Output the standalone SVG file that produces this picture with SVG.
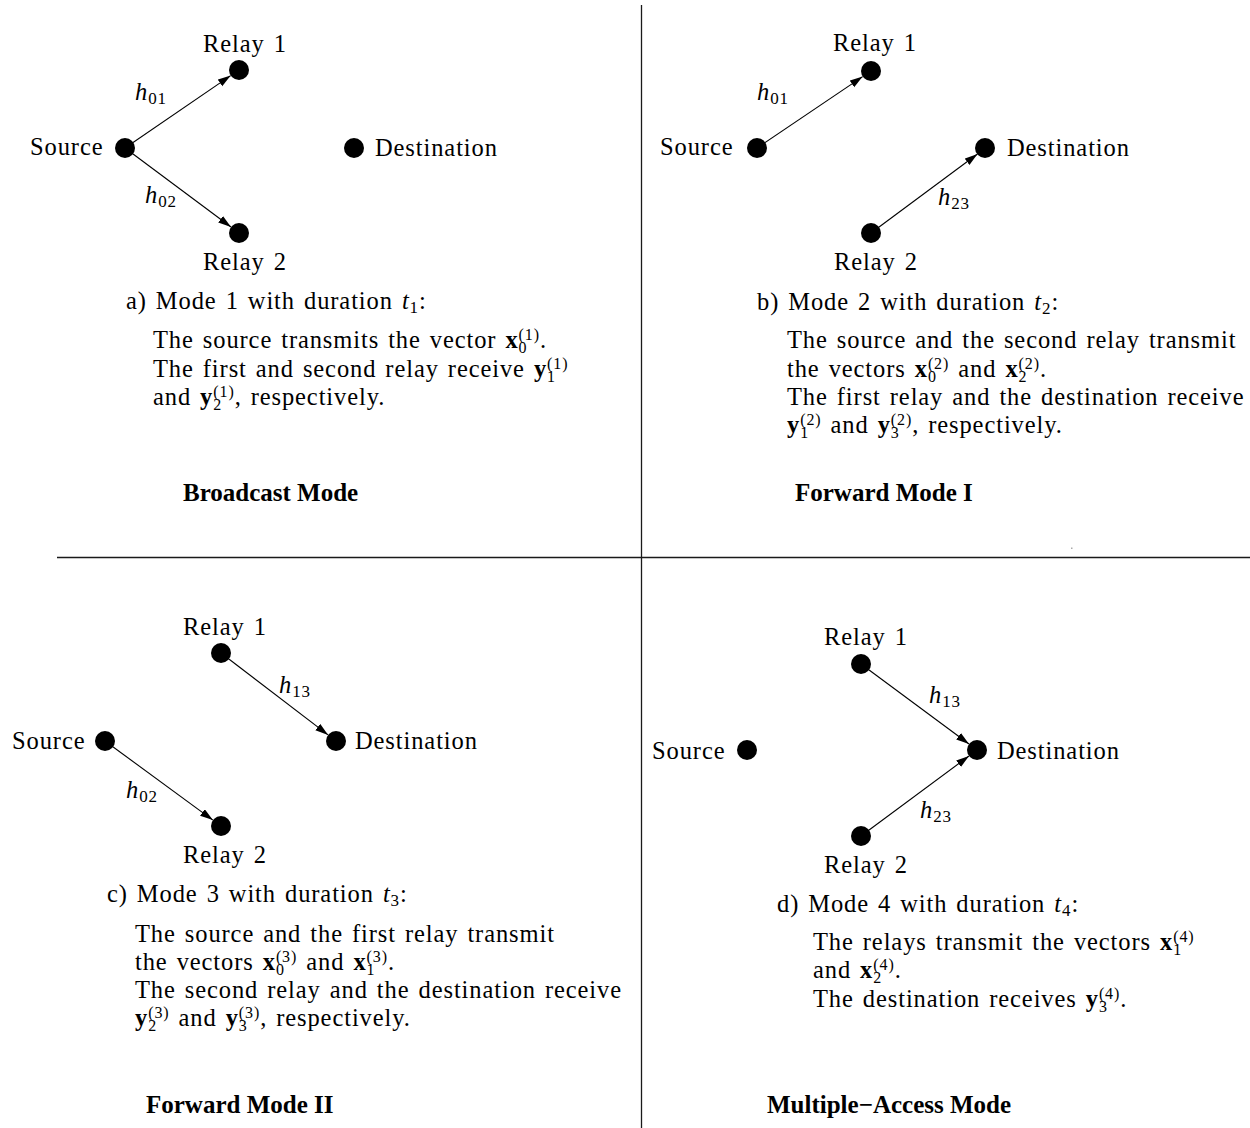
<svg xmlns="http://www.w3.org/2000/svg" width="1250" height="1128" viewBox="0 0 1250 1128">
<style>
.t{font-family:"Liberation Serif","Times New Roman",serif;font-size:24.5px;letter-spacing:0.9px;word-spacing:2px;fill:#000}
.i{font-style:italic}
.b{font-weight:bold}
.s{font-size:17px}
.v{font-size:16px}
.ttl{font-family:"Liberation Serif","Times New Roman",serif;font-weight:bold;font-size:25px;fill:#000}
.dot{fill:#000}
.edge{stroke:#000;stroke-width:1.1;fill:none;marker-end:url(#ah)}
.frame{stroke:#1a1a1a;stroke-width:1.3}
</style>
<defs>
<marker id="ah" markerUnits="userSpaceOnUse" markerWidth="14" markerHeight="9" refX="13" refY="4" orient="auto">
<path d="M0,0 L13,4 L0,8 z" fill="#000"/>
</marker>
</defs>
<rect width="1250" height="1128" fill="#fff"/>
<g id="frame">
<line class="frame" x1="641.5" y1="5" x2="641.5" y2="1128"/>
<line class="frame" x1="57" y1="557.5" x2="1250" y2="557.5"/>
<rect x="1071" y="547.5" width="1.5" height="1.5" fill="#aaa"/>
</g>
<g id="connectors">
<line class="edge" x1="125" y1="148" x2="230.7" y2="75.6"/>
<line class="edge" x1="125" y1="148" x2="231" y2="227"/>
<line class="edge" x1="757" y1="148" x2="862.7" y2="76.6"/>
<line class="edge" x1="871" y1="233" x2="977.5" y2="154"/>
<line class="edge" x1="221" y1="653" x2="328.1" y2="734.9"/>
<line class="edge" x1="105" y1="741" x2="212.9" y2="820.1"/>
<line class="edge" x1="861" y1="664" x2="969" y2="744"/>
<line class="edge" x1="861" y1="836" x2="969" y2="756"/>
</g>
<g id="panel-a">
<g id="a-source"><circle class="dot" cx="125" cy="148" r="10"/><text class="t" x="30" y="155">Source</text></g>
<g id="a-relay1"><circle class="dot" cx="239" cy="70" r="10"/><text class="t" x="203" y="52">Relay 1</text></g>
<g id="a-relay2"><circle class="dot" cx="239" cy="233" r="10"/><text class="t" x="203" y="270">Relay 2</text></g>
<g id="a-dest"><circle class="dot" cx="354" cy="148" r="10"/><text class="t" x="375" y="156">Destination</text></g>
<text class="t" x="135" y="100"><tspan class="i">h</tspan><tspan class="s" dy="4">01</tspan></text>
<text class="t" x="145" y="203"><tspan class="i">h</tspan><tspan class="s" dy="4">02</tspan></text>
<text class="t" x="126" y="309">a) Mode 1 with duration <tspan class="i">t</tspan><tspan class="s" dy="4">1</tspan><tspan dy="-4">:</tspan></text>
<text class="t" x="153" y="348">The source transmits the vector <tspan class="b">x</tspan><tspan class="v" dy="5">0</tspan><tspan class="v" dx="-8.9" dy="-13">(1)</tspan><tspan dy="8">.</tspan></text>
<text class="t" x="153" y="377">The first and second relay receive <tspan class="b">y</tspan><tspan class="v" dy="5">1</tspan><tspan class="v" dx="-8.9" dy="-13">(1)</tspan></text>
<text class="t" x="153" y="405">and <tspan class="b">y</tspan><tspan class="v" dy="5">2</tspan><tspan class="v" dx="-8.9" dy="-13">(1)</tspan><tspan dy="8">, respectively.</tspan></text>
<text class="ttl" x="183" y="501">Broadcast Mode</text>
</g>
<g id="panel-b">
<g id="b-source"><circle class="dot" cx="757" cy="148" r="10"/><text class="t" x="660" y="155">Source</text></g>
<g id="b-relay1"><circle class="dot" cx="871" cy="71" r="10"/><text class="t" x="833" y="51">Relay 1</text></g>
<g id="b-relay2"><circle class="dot" cx="871" cy="233" r="10"/><text class="t" x="834" y="270">Relay 2</text></g>
<g id="b-dest"><circle class="dot" cx="985" cy="148" r="10"/><text class="t" x="1007" y="156">Destination</text></g>
<text class="t" x="757" y="100"><tspan class="i">h</tspan><tspan class="s" dy="4">01</tspan></text>
<text class="t" x="938" y="205"><tspan class="i">h</tspan><tspan class="s" dy="4">23</tspan></text>
<text class="t" x="757" y="310">b) Mode 2 with duration <tspan class="i">t</tspan><tspan class="s" dy="4">2</tspan><tspan dy="-4">:</tspan></text>
<text class="t" x="787" y="348">The source and the second relay transmit</text>
<text class="t" x="787" y="377">the vectors <tspan class="b">x</tspan><tspan class="v" dy="5">0</tspan><tspan class="v" dx="-8.9" dy="-13">(2)</tspan><tspan dy="8"> and </tspan><tspan class="b">x</tspan><tspan class="v" dy="5">2</tspan><tspan class="v" dx="-8.9" dy="-13">(2)</tspan><tspan dy="8">.</tspan></text>
<text class="t" x="787" y="405">The first relay and the destination receive</text>
<text class="t" x="787" y="433"><tspan class="b">y</tspan><tspan class="v" dy="5">1</tspan><tspan class="v" dx="-8.9" dy="-13">(2)</tspan><tspan dy="8"> and </tspan><tspan class="b">y</tspan><tspan class="v" dy="5">3</tspan><tspan class="v" dx="-8.9" dy="-13">(2)</tspan><tspan dy="8">, respectively.</tspan></text>
<text class="ttl" x="795" y="501">Forward Mode I</text>
</g>
<g id="panel-c">
<g id="c-source"><circle class="dot" cx="105" cy="741" r="10"/><text class="t" x="12" y="749">Source</text></g>
<g id="c-relay1"><circle class="dot" cx="221" cy="653" r="10"/><text class="t" x="183" y="635">Relay 1</text></g>
<g id="c-relay2"><circle class="dot" cx="221" cy="826" r="10"/><text class="t" x="183" y="863">Relay 2</text></g>
<g id="c-dest"><circle class="dot" cx="336" cy="741" r="10"/><text class="t" x="355" y="749">Destination</text></g>
<text class="t" x="279" y="693"><tspan class="i">h</tspan><tspan class="s" dy="4">13</tspan></text>
<text class="t" x="126" y="798"><tspan class="i">h</tspan><tspan class="s" dy="4">02</tspan></text>
<text class="t" x="107" y="902">c) Mode 3 with duration <tspan class="i">t</tspan><tspan class="s" dy="4">3</tspan><tspan dy="-4">:</tspan></text>
<text class="t" x="135" y="942">The source and the first relay transmit</text>
<text class="t" x="135" y="970">the vectors <tspan class="b">x</tspan><tspan class="v" dy="5">0</tspan><tspan class="v" dx="-8.9" dy="-13">(3)</tspan><tspan dy="8"> and </tspan><tspan class="b">x</tspan><tspan class="v" dy="5">1</tspan><tspan class="v" dx="-8.9" dy="-13">(3)</tspan><tspan dy="8">.</tspan></text>
<text class="t" x="135" y="998">The second relay and the destination receive</text>
<text class="t" x="135" y="1026"><tspan class="b">y</tspan><tspan class="v" dy="5">2</tspan><tspan class="v" dx="-8.9" dy="-13">(3)</tspan><tspan dy="8"> and </tspan><tspan class="b">y</tspan><tspan class="v" dy="5">3</tspan><tspan class="v" dx="-8.9" dy="-13">(3)</tspan><tspan dy="8">, respectively.</tspan></text>
<text class="ttl" x="146" y="1113">Forward Mode II</text>
</g>
<g id="panel-d">
<g id="d-source"><circle class="dot" cx="747" cy="750" r="10"/><text class="t" x="652" y="759">Source</text></g>
<g id="d-relay1"><circle class="dot" cx="861" cy="664" r="10"/><text class="t" x="824" y="645">Relay 1</text></g>
<g id="d-relay2"><circle class="dot" cx="861" cy="836" r="10"/><text class="t" x="824" y="873">Relay 2</text></g>
<g id="d-dest"><circle class="dot" cx="977" cy="750" r="10"/><text class="t" x="997" y="759">Destination</text></g>
<text class="t" x="929" y="703"><tspan class="i">h</tspan><tspan class="s" dy="4">13</tspan></text>
<text class="t" x="920" y="818"><tspan class="i">h</tspan><tspan class="s" dy="4">23</tspan></text>
<text class="t" x="777" y="912">d) Mode 4 with duration <tspan class="i">t</tspan><tspan class="s" dy="4">4</tspan><tspan dy="-4">:</tspan></text>
<text class="t" x="813" y="950">The relays transmit the vectors <tspan class="b">x</tspan><tspan class="v" dy="5">1</tspan><tspan class="v" dx="-8.9" dy="-13">(4)</tspan></text>
<text class="t" x="813" y="978">and <tspan class="b">x</tspan><tspan class="v" dy="5">2</tspan><tspan class="v" dx="-8.9" dy="-13">(4)</tspan><tspan dy="8">.</tspan></text>
<text class="t" x="813" y="1007">The destination receives <tspan class="b">y</tspan><tspan class="v" dy="5">3</tspan><tspan class="v" dx="-8.9" dy="-13">(4)</tspan><tspan dy="8">.</tspan></text>
<text class="ttl" x="767" y="1113">Multiple−Access Mode</text>
</g>
</svg>
